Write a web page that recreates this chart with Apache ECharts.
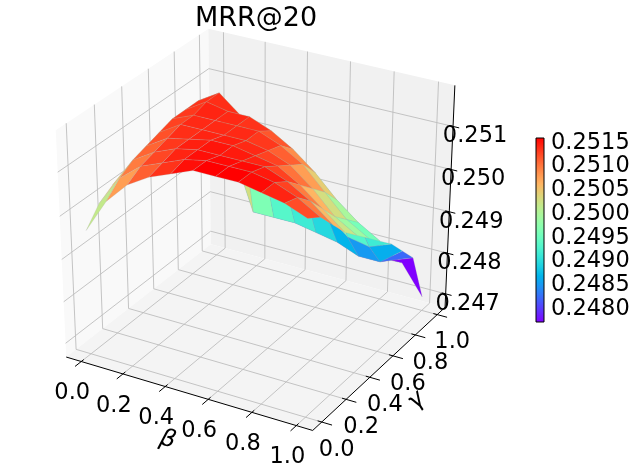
<!DOCTYPE html>
<html>
<head>
<meta charset="utf-8">
<script src="https://cdn.jsdelivr.net/npm/echarts@6/dist/echarts.min.js"></script>
<style>
html,body{margin:0;padding:0;background:#fff}
#chart{width:640px;height:473px}
</style>
</head>
<body>
<div id="chart"></div>
<script>
// grid of beta / gamma
var betaValues = [0, 0.1, 0.2, 0.3, 0.4, 0.5, 0.6, 0.7, 0.8, 0.9, 1.0];
var gammaValues = [0, 0.1, 0.2, 0.3, 0.4, 0.5, 0.6, 0.7, 0.8, 0.9, 1.0];
var betaTicks = [0, 0.2, 0.4, 0.6, 0.8, 1.0];
var gammaTicks = [0, 0.2, 0.4, 0.6, 0.8, 1.0];
var zTicks = [0.247, 0.248, 0.249, 0.250, 0.251];
var cbarTicks = [0.2480, 0.2485, 0.2490, 0.2495, 0.2500, 0.2505, 0.2510, 0.2515];

// MRR@20, one row per gamma, columns = beta
var mrrG00 = [0.2496, 0.2504, 0.2509, 0.2512, 0.2514, 0.2516, 0.2516, 0.2516, 0.2515, 0.2514, 0.2512];
var mrrG01 = [0.2500, 0.2507, 0.2511, 0.2513, 0.2515, 0.2516, 0.2516, 0.2516, 0.2515, 0.2513, 0.2510];
var mrrG02 = [0.2502, 0.2509, 0.2512, 0.2514, 0.2515, 0.2515, 0.2515, 0.2515, 0.2513, 0.2510, 0.2506];
var mrrG03 = [0.2503, 0.2510, 0.2513, 0.2514, 0.2515, 0.2515, 0.2514, 0.2513, 0.2510, 0.2506, 0.2502];
var mrrG04 = [0.2504, 0.2511, 0.2514, 0.2514, 0.2514, 0.2514, 0.2513, 0.2511, 0.2507, 0.2502, 0.2499];
var mrrG05 = [0.2505, 0.2512, 0.2514, 0.2514, 0.2514, 0.2514, 0.2512, 0.2509, 0.2504, 0.2499, 0.2496];
var mrrG06 = [0.2505, 0.2512, 0.2515, 0.2514, 0.2514, 0.2512, 0.2509, 0.2505, 0.2500, 0.2496, 0.2493];
var mrrG07 = [0.2505, 0.2512, 0.2515, 0.2511, 0.2503, 0.2499, 0.2497, 0.2493, 0.2489, 0.2488, 0.2490];
var mrrG08 = [0.2504, 0.2511, 0.2500, 0.2486, 0.2486, 0.2486, 0.2485, 0.2484, 0.2482, 0.2482, 0.2486];
var mrrG09 = [0.2503, 0.2507, 0.2496, 0.2485, 0.2485, 0.2485, 0.2484, 0.2483, 0.2481, 0.2480, 0.2482];
var mrrG10 = [0.2502, 0.2503, 0.2492, 0.2484, 0.2484, 0.2484, 0.2483, 0.2482, 0.2480, 0.2477, 0.2470];
var mrr = [mrrG00, mrrG01, mrrG02, mrrG03, mrrG04, mrrG05, mrrG06, mrrG07, mrrG08, mrrG09, mrrG10];

var FONT = 'DejaVu Sans';

// matplotlib 'rainbow'
function rainbow(t) {
	t = Math.max(0, Math.min(1, t));
	var r = Math.abs(2 * t - 0.5), g = Math.sin(Math.PI * t), b = Math.cos(Math.PI * t / 2);
	function c(x) { return Math.round(Math.max(0, Math.min(1, x)) * 255); }
	return 'rgb(' + c(r) + ',' + c(g) + ',' + c(b) + ')';
}

// limits like mplot3d: 5% margin, panes 1/48 outside
function withMargin(lo, hi, m) { var d = (hi - lo) * m; return [lo - d, hi + d]; }
var zAll = [].concat.apply([], mrr);
var zMin = Math.min.apply(null, zAll), zMax = Math.max.apply(null, zAll);
var xl = withMargin(betaValues[0], betaValues[betaValues.length - 1], 0.05);
var yl = withMargin(gammaValues[0], gammaValues[gammaValues.length - 1], 0.05);
var zl = withMargin(zMin, zMax, 0.05);
function paneBox(l) { var d = (l[1] - l[0]) / 48; return [l[0] - d, l[1] + d]; }
var px = paneBox(xl), py = paneBox(yl), pz = paneBox(zl);

// face colours = mean of 4 corners
var faces = [];
for (var i = 0; i < gammaValues.length - 1; i++) {
	for (var j = 0; j < betaValues.length - 1; j++) {
		var pts = [[j, i], [j + 1, i], [j + 1, i + 1], [j, i + 1]].map(function (k) {
			return [betaValues[k[0]], gammaValues[k[1]], mrr[k[1]][k[0]]];
		});
		var avg = (pts[0][2] + pts[1][2] + pts[2][2] + pts[3][2]) / 4;
		faces.push({pts: pts, avg: avg});
	}
}
var cMin = Math.min.apply(null, faces.map(function (f) { return f.avg; }));
var cMax = Math.max.apply(null, faces.map(function (f) { return f.avg; }));

// view
var ELEV = 30, AZIM = -60, DIST = 10;
var el = ELEV * Math.PI / 180, az = AZIM * Math.PI / 180;
var nVec = [Math.cos(el) * Math.cos(az), Math.cos(el) * Math.sin(az), Math.sin(el)];
var uVec = [-Math.sin(az), Math.cos(az), 0];
var vVec = [-Math.sin(el) * Math.cos(az), -Math.sin(el) * Math.sin(az), Math.cos(el)];
var CX = 258.7, CY = 222.5, SX = 2731, SY = 2486;
function dot(a, b) { return a[0] * b[0] + a[1] * b[1] + a[2] * b[2]; }
function project(x, y, z) {
	var p = [(x - xl[0]) / (xl[1] - xl[0]) - 0.5, (y - yl[0]) / (yl[1] - yl[0]) - 0.5, (z - zl[0]) / (zl[1] - zl[0]) - 0.5];
	var d = DIST - dot(nVec, p);
	return [CX + SX * dot(uVec, p) / d, CY - SY * dot(vVec, p) / d, d];
}

function poly(list, style) {
	return {type: 'polygon', shape: {points: list.map(function (q) { var s = project(q[0], q[1], q[2]); return [s[0], s[1]]; })}, style: style};
}
function seg(a, b, color, w) {
	var s = project(a[0], a[1], a[2]), e = project(b[0], b[1], b[2]);
	return {type: 'line', shape: {x1: s[0], y1: s[1], x2: e[0], y2: e[1]}, style: {stroke: color, lineWidth: w}};
}
function label(txt, s, dx, dy, size, rot, italic) {
	return {type: 'text', x: s[0] + dx, y: s[1] + dy, rotation: rot || 0,
		style: {text: txt, fill: '#000', font: (italic ? 'italic ' : '') + size + 'px "' + FONT + '"', align: 'center', verticalAlign: 'middle'}};
}

function renderScene() {
	var kids = [];
	var gridColor = '#bdbdbd';
	// panes
	kids.push(poly([[px[0], py[0], pz[0]], [px[0], py[1], pz[0]], [px[0], py[1], pz[1]], [px[0], py[0], pz[1]]], {fill: '#f9f9f9'}));
	kids.push(poly([[px[0], py[1], pz[0]], [px[1], py[1], pz[0]], [px[1], py[1], pz[1]], [px[0], py[1], pz[1]]], {fill: '#f1f1f1'}));
	kids.push(poly([[px[0], py[0], pz[0]], [px[1], py[0], pz[0]], [px[1], py[1], pz[0]], [px[0], py[1], pz[0]]], {fill: '#f4f4f4'}));
	// grid lines
	betaTicks.forEach(function (t) {
		kids.push(seg([t, py[0], pz[0]], [t, py[1], pz[0]], gridColor, 0.9));
		kids.push(seg([t, py[1], pz[0]], [t, py[1], pz[1]], gridColor, 0.9));
	});
	gammaTicks.forEach(function (t) {
		kids.push(seg([px[0], t, pz[0]], [px[1], t, pz[0]], gridColor, 0.9));
		kids.push(seg([px[0], t, pz[0]], [px[0], t, pz[1]], gridColor, 0.9));
	});
	zTicks.forEach(function (t) {
		kids.push(seg([px[0], py[0], t], [px[0], py[1], t], gridColor, 0.9));
		kids.push(seg([px[0], py[1], t], [px[1], py[1], t], gridColor, 0.9));
	});
	// axis lines
	kids.push(seg([px[0], py[0], pz[0]], [px[1], py[0], pz[0]], '#000', 1));
	kids.push(seg([px[1], py[0], pz[0]], [px[1], py[1], pz[0]], '#000', 1));
	kids.push(seg([px[1], py[1], pz[0]], [px[1], py[1], pz[1]], '#000', 1));
	// ticks and tick labels
	var dy = (py[1] - py[0]) * 0.04, dx = (px[1] - px[0]) * 0.04;
	betaTicks.forEach(function (t) {
		kids.push(seg([t, py[0] + dy * 0.4, pz[0]], [t, py[0] - dy, pz[0]], '#000', 1));
		kids.push(label(t.toFixed(1), project(t, py[0], pz[0]), -9, 32, 22.5));
	});
	gammaTicks.forEach(function (t) {
		kids.push(seg([px[1] - dx * 0.4, t, pz[0]], [px[1] + dx, t, pz[0]], '#000', 1));
		kids.push(label(t.toFixed(1), project(px[1], t, pz[0]), 15, 28, 22.5));
	});
	zTicks.forEach(function (t) {
		kids.push(seg([px[1] - dx * 0.4, py[1], t], [px[1] + dx * 0.6, py[1], t], '#000', 1));
		kids.push(label(t.toFixed(3), project(px[1], py[1], t), 22, 10, 22.5));
	});
	// axis names
	var xa = project(px[0], py[0], pz[0]), xb = project(px[1], py[0], pz[0]);
	var ya = project(px[1], py[0], pz[0]), yb = project(px[1], py[1], pz[0]);
	var xm = project((px[0] + px[1]) / 2, py[0], pz[0]);
	var ym = project(px[1], (py[0] + py[1]) / 2, pz[0]);
	kids.push(label('β', xm, -19, 47, 24, Math.atan2(-(xb[1] - xa[1]), xb[0] - xa[0]), true));
	kids.push(label('γ', ym, 35, 34, 24, Math.atan2(-(yb[1] - ya[1]), yb[0] - ya[0]), true));

	// surface, far faces first
	var drawn = faces.map(function (f) {
		var depth = 0;
		f.pts.forEach(function (q) { depth += project(q[0], q[1], q[2])[2]; });
		return {f: f, depth: depth / 4};
	}).sort(function (a, b) { return b.depth - a.depth; });
	drawn.forEach(function (d) {
		var col = rainbow((d.f.avg - cMin) / (cMax - cMin));
		kids.push(poly(d.f.pts, {fill: col, stroke: 'rgba(170,170,170,0.45)', lineWidth: 0.5}));
	});
	return {type: 'group', children: kids};
}

var stops = [];
for (var s = 0; s <= 20; s++) stops.push({offset: s / 20, color: rainbow(1 - s / 20)});

var chart = echarts.init(document.getElementById('chart'));
var option = {
	animation: false,
	title: {
		text: 'MRR@20', left: 190, top: 0,
		textStyle: {fontFamily: FONT, fontSize: 27, fontWeight: 'normal', color: '#000'}
	},
	grid: {left: 536, top: 138, width: 8, height: 184},
	xAxis: {type: 'value', min: 0, max: 1, show: false},
	yAxis: {
		type: 'value', position: 'right', min: cMin, max: cMax,
		axisLine: {show: false},
		splitLine: {show: false},
		axisTick: {show: true, length: 4, customValues: cbarTicks, lineStyle: {color: '#000'}},
		axisLabel: {customValues: cbarTicks, margin: 7, color: '#000', fontFamily: FONT, fontSize: 22.5,
			formatter: function (v) { return v.toFixed(4); }}
	},
	series: [{
		type: 'custom', coordinateSystem: 'none', silent: true,
		data: [[0]],
		renderItem: function () { return renderScene(); }
	}, {
		type: 'custom', coordinateSystem: 'cartesian2d', silent: true,
		data: [[0, cMin]],
		renderItem: function (params, api) {
			var a = api.coord([0, cMax]), b = api.coord([1, cMin]);
			return {type: 'rect', shape: {x: a[0], y: a[1], width: b[0] - a[0], height: b[1] - a[1]},
				style: {fill: {type: 'linear', x: 0, y: 0, x2: 0, y2: 1, colorStops: stops}, stroke: '#000', lineWidth: 1}};
		}
	}]
};
chart.setOption(option);
</script>
</body>
</html>
